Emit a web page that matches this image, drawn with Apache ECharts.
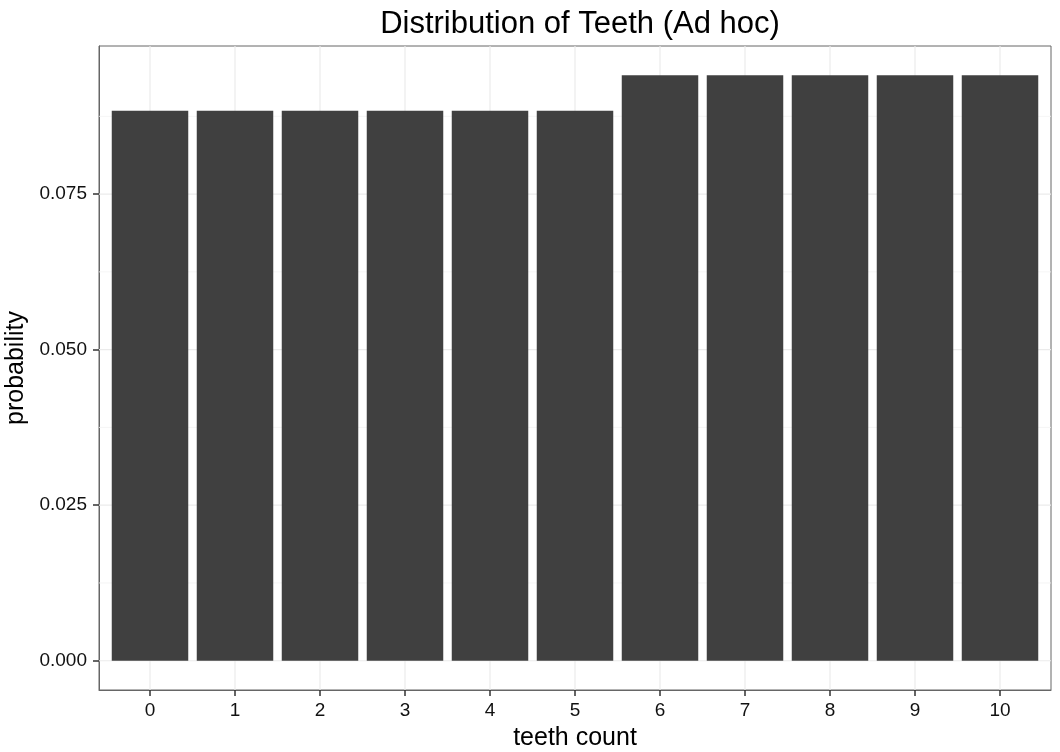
<!DOCTYPE html>
<html>
<head>
<meta charset="utf-8">
<script src="https://cdn.jsdelivr.net/npm/echarts@6/dist/echarts.min.js"></script>
<style>html,body{margin:0;padding:0;background:#fff}#c{width:1060px;height:752px}</style>
</head>
<body>
<div id="c"></div>
<script>
var categories = [0, 1, 2, 3, 4, 5, 6, 7, 8, 9, 10];
var probability = [0.0884, 0.0884, 0.0884, 0.0884, 0.0884, 0.0884, 0.0941, 0.0941, 0.0941, 0.0941, 0.0941];
var yTicks = [0, 0.025, 0.05, 0.075];
var yMinor = [0.0125, 0.0375, 0.0625, 0.0875];

var W = 1060, H = 752;
var gridL = 99, gridR = 9, gridT = 46, gridB = 62;
var xMin = -0.6, xMax = 10.6;
var yMax = 0.0941 * 1.05, yMin = -0.0941 * 0.05;
var plotW = W - gridL - gridR;
var barW = plotW / (xMax - xMin) * 0.9;

var chart = echarts.init(document.getElementById('c'), null, {renderer: 'canvas'});
var font = 'Liberation Sans, Arial, Helvetica, sans-serif';

// gridline items: [orientation, value, major(1)/minor(0)]
var gridItems = [];
yTicks.forEach(function (v) { gridItems.push(['h', v, 1]); });
yMinor.forEach(function (v) { gridItems.push(['h', v, 0]); });
categories.forEach(function (v) { gridItems.push(['v', v, 1]); });

chart.setOption({
  animation: false,
  backgroundColor: '#ffffff',
  title: {
    text: 'Distribution of Teeth (Ad hoc)',
    left: gridL + plotW / 2,
    textAlign: 'center',
    top: 4,
    textStyle: {fontFamily: font, fontSize: 31, fontWeight: 'normal', color: '#000'}
  },
  grid: {
    left: gridL, right: gridR, top: gridT, bottom: gridB,
    containLabel: false, outerBoundsMode: 'none',
    show: true, borderColor: '#666666', borderWidth: 1, backgroundColor: '#ffffff'
  },
  xAxis: {
    type: 'value',
    min: xMin, max: xMax,
    name: 'teeth count',
    nameLocation: 'middle',
    nameGap: 36,
    nameTextStyle: {fontFamily: font, fontSize: 25, color: '#000'},
    axisLine: {show: true, onZero: false, lineStyle: {color: '#666666', width: 1}},
    splitLine: {show: false},
    axisTick: {show: true, customValues: categories, length: 6, lineStyle: {color: '#333', width: 1.5}},
    axisLabel: {customValues: categories, fontFamily: font, fontSize: 19, color: '#111', margin: 11}
  },
  yAxis: {
    type: 'value',
    min: yMin, max: yMax,
    name: 'probability',
    nameLocation: 'middle',
    nameGap: 66,
    nameTextStyle: {fontFamily: font, fontSize: 25, color: '#000'},
    axisLine: {show: true, onZero: false, lineStyle: {color: '#666666', width: 1}},
    splitLine: {show: false},
    axisTick: {show: true, customValues: yTicks, length: 6, lineStyle: {color: '#333', width: 1.5}},
    axisLabel: {customValues: yTicks, fontFamily: font, fontSize: 19, color: '#111', margin: 12,
      formatter: function (v) { return v.toFixed(3); }}
  },
  series: [
    {
      type: 'custom',
      z: 1,
      silent: true,
      data: gridItems,
      renderItem: function (params, api) {
        var o = gridItems[params.dataIndex][0];
        var v = gridItems[params.dataIndex][1];
        var major = gridItems[params.dataIndex][2];
        var p1, p2;
        if (o === 'h') { p1 = api.coord([xMin, v]); p2 = api.coord([xMax, v]); }
        else { p1 = api.coord([v, yMin]); p2 = api.coord([v, yMax]); }
        return {
          type: 'line',
          shape: {x1: p1[0], y1: p1[1], x2: p2[0], y2: p2[1]},
          style: {stroke: major ? '#ebebeb' : '#f3f3f3', lineWidth: major ? 1.2 : 0.8}
        };
      },
      encode: {x: 1, y: 1}
    },
    {
      type: 'bar',
      z: 2,
      barWidth: barW,
      itemStyle: {color: '#404040'},
      data: categories.map(function (c, i) { return [c, probability[i]]; })
    }
  ]
});
</script>
</body>
</html>
